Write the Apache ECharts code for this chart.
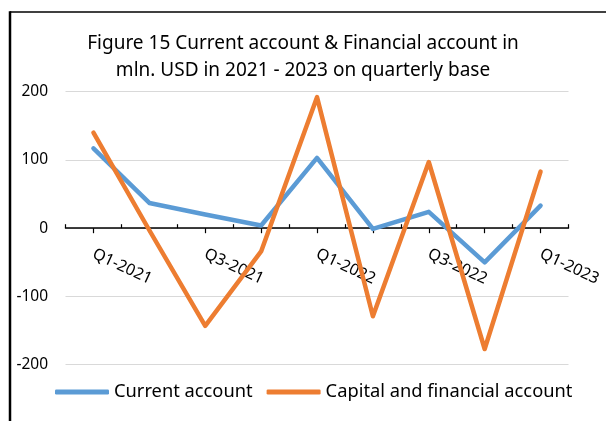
<!DOCTYPE html>
<html>
<head>
<meta charset="utf-8">
<script src="https://cdn.jsdelivr.net/npm/echarts@6/dist/echarts.min.js"></script>
<style>
    html, body { margin: 0; padding: 0; background: #fff; }
    #chart { width: 606px; height: 421px; }
</style>
</head>
<body>
<div id="chart"></div>
<script>
var quarters = ['Q1-2021', 'Q2-2021', 'Q3-2021', 'Q4-2021', 'Q1-2022', 'Q2-2022', 'Q3-2022', 'Q4-2022', 'Q1-2023'];
var currentAccount = [117, 37, 20, 4, 103, -1, 24, -50, 33];
var capitalFinancial = [140, -3, -143, -34, 192, -129, 97, -177, 83];
var yTicks = [-200, -100, 0, 100, 200];

var font = 'Noto Sans';
var gridTop = 91.7;
var gridBottom = 364.7;
// x axis sits at value 0, i.e. in the middle of the plot
var zeroOffset = -(gridBottom - (gridTop + gridBottom) / 2);

var chart = echarts.init(document.getElementById('chart'));

var option = {
    animation: false,
    title: {
        text: 'Figure 15 Current account & Financial account in\nmln. USD in 2021 - 2023 on quarterly base',
        left: 'center',
        top: 25,
        textStyle: {
            fontFamily: font,
            fontSize: 19,
            fontWeight: 'normal',
            color: '#000',
            lineHeight: 27
        }
    },
    legend: {
        left: 50,
        top: 378,
        itemWidth: 54,
        itemHeight: 5,
        itemGap: 14,
        icon: 'roundRect',
        textStyle: { fontFamily: font, fontSize: 18.3, color: '#000' },
        data: ['Current account', 'Capital and financial account']
    },
    grid: { left: 65.5, right: 37.5, top: gridTop, bottom: 421 - gridBottom },
    xAxis: [
        {
            type: 'category',
            data: quarters,
            position: 'bottom',
            offset: zeroOffset,
            axisLine: { onZero: false, lineStyle: { color: '#000', width: 1.5 } },
            axisTick: { show: true, inside: true, length: 4, interval: 0, lineStyle: { color: '#000', width: 1.2 } },
            axisLabel: {
                interval: 1,
                rotate: -25,
                margin: 25,
                fontFamily: font,
                fontSize: 16,
                color: '#000'
            }
        },
        {
            type: 'category',
            data: quarters,
            position: 'bottom',
            offset: zeroOffset,
            axisLine: { show: false, onZero: false },
            axisTick: { show: true, alignWithLabel: true, length: 5, interval: 0, lineStyle: { color: '#000', width: 1.2 } },
            axisLabel: { show: false }
        }
    ],
    yAxis: {
        type: 'value',
        min: yTicks[0],
        max: yTicks[yTicks.length - 1],
        interval: 100,
        axisLine: { show: false },
        axisTick: { show: false },
        axisLabel: { margin: 17.5, fontFamily: font, fontSize: 15.5, color: '#000' },
        splitLine: { lineStyle: { color: '#d9d9d9', width: 1 } }
    },
    series: [
        {
            name: 'Current account',
            type: 'line',
            data: currentAccount,
            symbol: 'none',
            itemStyle: { color: '#5b9bd5' },
            lineStyle: { color: '#5b9bd5', width: 4.5, join: 'round', cap: 'round' }
        },
        {
            name: 'Capital and financial account',
            type: 'line',
            data: capitalFinancial,
            symbol: 'none',
            itemStyle: { color: '#ed7d31' },
            lineStyle: { color: '#ed7d31', width: 4.5, join: 'round', cap: 'round' }
        }
    ],
    graphic: [
        { type: 'line', shape: { x1: 10, y1: 12, x2: 606, y2: 12 }, style: { stroke: '#000', lineWidth: 1.5 } },
        { type: 'line', shape: { x1: 10, y1: 11.3, x2: 10, y2: 421 }, style: { stroke: '#000', lineWidth: 2.5 } }
    ]
};
chart.setOption(option);
</script>
</body>
</html>
